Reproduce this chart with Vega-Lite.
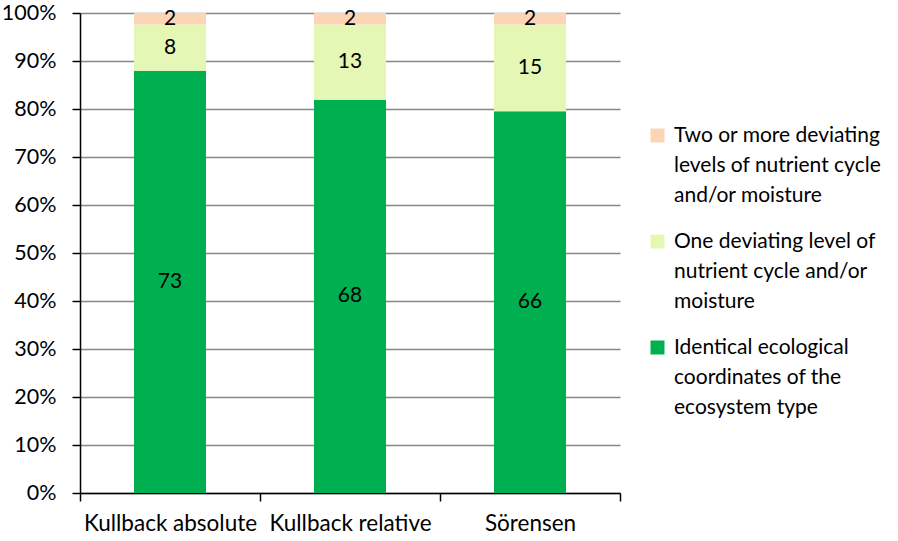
{
  "$schema": "https://vega.github.io/schema/vega-lite/v6.json",
  "width": 540,
  "height": 480,
  "autosize": {"type": "none"},
  "padding": {"left": 80, "top": 13, "right": 278, "bottom": 48},
  "background": "white",
  "config": {
    "font": "Lato",
    "view": {"stroke": null},
    "style": {"guide-label": {"lineHeight": 30, "dy": -11}}
  },
  "data": {
    "values": [
      {"method": "Kullback absolute", "category": "Identical ecological coordinates of the ecosystem type", "count": 73, "order": 1},
      {"method": "Kullback absolute", "category": "One deviating level of nutrient cycle and/or moisture", "count": 8, "order": 2},
      {"method": "Kullback absolute", "category": "Two or more deviating levels of nutrient cycle and/or moisture", "count": 2, "order": 3},
      {"method": "Kullback relative", "category": "Identical ecological coordinates of the ecosystem type", "count": 68, "order": 1},
      {"method": "Kullback relative", "category": "One deviating level of nutrient cycle and/or moisture", "count": 13, "order": 2},
      {"method": "Kullback relative", "category": "Two or more deviating levels of nutrient cycle and/or moisture", "count": 2, "order": 3},
      {"method": "Sörensen", "category": "Identical ecological coordinates of the ecosystem type", "count": 66, "order": 1},
      {"method": "Sörensen", "category": "One deviating level of nutrient cycle and/or moisture", "count": 15, "order": 2},
      {"method": "Sörensen", "category": "Two or more deviating levels of nutrient cycle and/or moisture", "count": 2, "order": 3}
    ]
  },
  "encoding": {
    "x": {
      "field": "method",
      "type": "nominal",
      "sort": ["Kullback absolute", "Kullback relative", "Sörensen"],
      "scale": {"paddingInner": 0, "paddingOuter": 0},
      "axis": {
        "title": null,
        "labelAngle": 0,
        "labelFontSize": 22.5,
        "labelColor": "black",
        "labelPadding": 22,
        "tickBand": "extent",
        "tickSize": 8,
        "tickColor": "black",
        "domainColor": "black",
        "domainWidth": 1.5,
        "tickWidth": 1.5,
        "labelLimit": 300,
        "labelOverlap": false
      }
    },
    "order": {"field": "order", "type": "quantitative"}
  },
  "layer": [
    {
      "mark": {"type": "bar", "width": {"band": 0.4}},
      "encoding": {
        "y": {
          "field": "count",
          "type": "quantitative",
          "stack": "normalize",
          "scale": {"domain": [0, 1], "nice": false},
          "axis": {
            "title": null,
            "format": ".0%",
            "values": [0, 0.1, 0.2, 0.3, 0.4, 0.5, 0.6, 0.7, 0.8, 0.9, 1],
            "labelOverlap": false,
            "labelFontSize": 21.5,
            "labelColor": "black",
            "labelPadding": 16,
            "labelOffset": 11,
            "tickSize": 8,
            "tickColor": "black",
            "tickWidth": 1.5,
            "domainColor": "black",
            "domainWidth": 1.5,
            "grid": true,
            "gridColor": "#868686",
            "gridWidth": 1.5
          }
        },
        "color": {
          "field": "category",
          "type": "nominal",
          "sort": [
            "Two or more deviating levels of nutrient cycle and/or moisture",
            "One deviating level of nutrient cycle and/or moisture",
            "Identical ecological coordinates of the ecosystem type"
          ],
          "scale": {
            "domain": [
              "Two or more deviating levels of nutrient cycle and/or moisture",
              "One deviating level of nutrient cycle and/or moisture",
              "Identical ecological coordinates of the ecosystem type"
            ],
            "range": ["#FCD5B4", "#E4F7B4", "#00B050"]
          },
          "legend": {
            "title": null,
            "orient": "none",
            "legendX": 567,
            "legendY": 112,
            "symbolType": "square",
            "symbolSize": 196,
            "symbolStrokeWidth": 0,
            "labelFontSize": 21,
            "labelColor": "black",
            "labelLimit": 300,
            "labelOffset": 6,
            "labelBaseline": "top",
            "rowPadding": 24,
            "labelExpr": "datum.label == 'Two or more deviating levels of nutrient cycle and/or moisture' ? ['Two or more deviating', 'levels of nutrient cycle', 'and/or moisture'] : datum.label == 'One deviating level of nutrient cycle and/or moisture' ? ['One deviating level of', 'nutrient cycle and/or', 'moisture'] : ['Identical ecological', 'coordinates of the', 'ecosystem type']"
          }
        }
      }
    },
    {
      "mark": {"type": "text", "fontSize": 21, "color": "black", "baseline": "middle"},
      "encoding": {
        "y": {
          "field": "count",
          "type": "quantitative",
          "stack": "normalize",
          "bandPosition": 0.5
        },
        "text": {"field": "count", "type": "quantitative"}
      }
    }
  ]
}
